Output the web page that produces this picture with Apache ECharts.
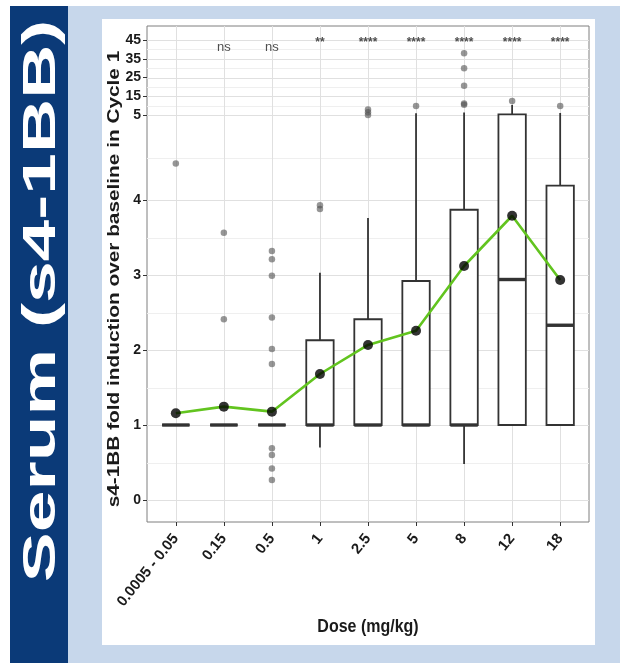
<!DOCTYPE html>
<html><head><meta charset="utf-8">
<script src="https://cdn.jsdelivr.net/npm/echarts@6/dist/echarts.min.js"></script>
<style>html,body{margin:0;padding:0;background:#fff}#c{width:620px;height:663px}</style>
</head><body><div id="c"></div><script>
// ---- data ----
const doses = ['0.0005 - 0.05','0.15','0.5','1','2.5','5','8','12','18'];
const whiskerLow  = [1, 1, 1, 0.70, 1, 1, 0.48, 1, 1];
const q1          = [1, 1, 1, 1, 1, 1, 1, 1, 1];
const median      = [1, 1, 1, 1, 1, 1, 1, 2.94, 2.33];
const q3          = [1, 1, 1, 2.13, 2.41, 2.92, 3.87, 5.4, 4.17];
const whiskerHigh = [1, 1, 1, 3.03, 3.76, 6.0, 6.3, 10.4, 6.1];
const means       = [1.156, 1.245, 1.178, 1.68, 2.067, 2.257, 3.12, 3.79, 2.933];
const outliers = [
  [4.43],
  [3.565, 2.41],
  [3.32, 3.21, 2.99, 2.435, 2.013, 1.813, 0.69, 0.6, 0.42, 0.267],
  [3.88, 3.93],
  [5.0, 6.5, 8.0],
  [9.8],
  [10.5, 11.2, 20.6, 29.9, 37.9],
  [12.5],
  [9.8]
];
const sigLabels = ['', 'ns', 'ns', '**', '****', '****', '****', '****', '****'];
const sigLevel = 45;
const yTickValues = [0, 1, 2, 3, 4, 5, 15, 25, 35, 45];
const yMinorValues = [0.5, 1.5, 2.5, 3.5, 4.5, 10, 20, 30, 40];

// broken y scale: linear 0-4, stretched 4-5, compressed above 5
function tr(v){
  if (v <= 4) return v;
  if (v <= 5) return 4 + (v - 4) * 1.133;
  return 5.133 + (v - 5) * 0.025;
}
const yTickT = yTickValues.map(tr);
const xIdx = doses.map((d, i) => i);

const boxData = xIdx.map(i => [i, tr(whiskerLow[i]), tr(q1[i]), tr(median[i]), tr(q3[i]), tr(whiskerHigh[i])]);
const outlierData = [];
outliers.forEach((arr, i) => arr.forEach(v => outlierData.push([i, tr(v)])));
const meanData = xIdx.map(i => [i, tr(means[i])]);
const sigData = xIdx.filter(i => sigLabels[i]).map(i => [i, tr(sigLevel)]);
// [kind (0 = horizontal, 1 = vertical), position, major flag]
const gridLineData = [
  ...yTickT.map(t => [0, t, 1]),
  ...yMinorValues.map(v => [0, tr(v), 0]),
  ...xIdx.map(i => [1, i, 1])
];

const FONT = 'Liberation Sans, Arial, sans-serif';
const chart = echarts.init(document.getElementById('c'), null, {renderer: 'canvas'});
chart.setOption({
  animation: false,
  backgroundColor: '#ffffff',
  graphic: [
    {type: 'rect', z: -10, shape: {x: 10, y: 6, width: 610, height: 657}, style: {fill: '#c7d7eb'}},
    {type: 'rect', z: -9, shape: {x: 10, y: 6, width: 58, height: 657}, style: {fill: '#0b3a78'}},
    {type: 'rect', z: -9, shape: {x: 102, y: 19, width: 493, height: 626}, style: {fill: '#ffffff'}},
    {type: 'text', z: 10, x: 42, y: 301, rotation: Math.PI / 2, scaleX: 1.63,
      style: {text: 'Serum (s4-1BB)', font: 'bold 46px ' + FONT, fill: '#ffffff', align: 'center', verticalAlign: 'middle'}},
    {type: 'text', z: 10, x: 115, y: 279, rotation: Math.PI / 2, scaleX: 1.3,
      style: {text: 's4-1BB fold induction over baseline in Cycle 1', font: 'bold 16px ' + FONT, fill: '#1a1a1a', align: 'center', verticalAlign: 'middle'}},
    {type: 'text', z: 10, x: 368, y: 627, scaleY: 1.15,
      style: {text: 'Dose (mg/kg)', font: 'bold 16px ' + FONT, fill: '#1a1a1a', align: 'center', verticalAlign: 'middle'}}
  ],
  grid: {left: 147, right: 31, top: 26, bottom: 141, show: true, backgroundColor: '#ffffff',
    borderColor: '#7f7f7f', borderWidth: 1, containLabel: false, outerBoundsMode: 'none'},
  xAxis: {
    type: 'value', min: -0.6, max: 8.6,
    axisLine: {show: false, onZero: false},
    splitLine: {show: false},
    axisTick: {show: true, length: 4, customValues: xIdx, lineStyle: {color: '#333', width: 1}},
    axisLabel: {show: true, customValues: xIdx, rotate: 51, margin: 14,
      formatter: v => doses[Math.round(v)] ?? '',
      fontFamily: FONT, fontWeight: 'bold', fontSize: 15, color: '#1a1a1a'}
  },
  yAxis: {
    type: 'value', min: -0.2933, max: 6.32,
    axisLine: {show: false, onZero: false},
    splitLine: {show: false},
    axisTick: {show: true, length: 4, customValues: yTickT, lineStyle: {color: '#333', width: 1}},
    axisLabel: {show: true, customValues: yTickT, margin: 6,
      formatter: v => {
        const k = yTickT.findIndex(t => Math.abs(t - v) < 1e-6);
        return k >= 0 ? String(yTickValues[k]) : '';
      },
      fontFamily: FONT, fontWeight: 'bold', fontSize: 14, color: '#1a1a1a'}
  },
  series: [
    {
      type: 'custom', name: 'grid', z: 1, silent: true,
      data: gridLineData,
      renderItem: (params, api) => {
        const cs = params.coordSys;
        const kind = api.value(0);
        const major = api.value(2) === 1;
        const col = major ? '#e0e0e0' : '#efefef';
        if (kind === 0) {
          const y = Math.round(api.coord([0, api.value(1)])[1]) + 0.5;
          return {type: 'line', shape: {x1: cs.x, y1: y, x2: cs.x + cs.width, y2: y}, style: {stroke: col, lineWidth: 1}};
        }
        const x = Math.round(api.coord([api.value(1), 0])[0]) + 0.5;
        return {type: 'line', shape: {x1: x, y1: cs.y, x2: x, y2: cs.y + cs.height}, style: {stroke: col, lineWidth: 1}};
      }
    },
    {
      type: 'custom', name: 'box', z: 2, silent: true,
      data: boxData,
      renderItem: (params, api) => {
        const i = api.value(0);
        const hw = 0.285;
        const xc = api.coord([i, 0])[0];
        const xl = api.coord([i - hw, 0])[0];
        const xr = api.coord([i + hw, 0])[0];
        const yLo = api.coord([i, api.value(1)])[1];
        const yQ1 = api.coord([i, api.value(2)])[1];
        const yMed = api.coord([i, api.value(3)])[1];
        const yQ3 = api.coord([i, api.value(4)])[1];
        const yHi = api.coord([i, api.value(5)])[1];
        const st = {stroke: '#333333', lineWidth: 1.8};
        return {type: 'group', children: [
          {type: 'line', shape: {x1: xc, y1: yHi, x2: xc, y2: yQ3}, style: st},
          {type: 'line', shape: {x1: xc, y1: yQ1, x2: xc, y2: yLo}, style: st},
          {type: 'rect', shape: {x: xl, y: yQ3, width: xr - xl, height: yQ1 - yQ3}, style: {fill: '#ffffff', stroke: '#333333', lineWidth: 1.8}},
          {type: 'line', shape: {x1: xl, y1: yMed, x2: xr, y2: yMed}, style: {stroke: '#333333', lineWidth: 3.4}}
        ]};
      }
    },
    {
      type: 'scatter', name: 'outliers', z: 3, silent: true,
      data: outlierData, symbol: 'circle', symbolSize: 6.5,
      itemStyle: {color: 'rgba(80,80,80,0.75)'}
    },
    {
      type: 'line', name: 'meanLine', z: 4, silent: true,
      data: meanData, symbol: 'none',
      lineStyle: {color: '#62c41f', width: 2.6}
    },
    {
      type: 'scatter', name: 'means', z: 5, silent: true,
      data: meanData, symbol: 'circle', symbolSize: 10,
      itemStyle: {color: '#000000'}
    },
    {
      type: 'scatter', name: 'sig', z: 6, silent: true,
      data: sigData, symbol: 'circle', symbolSize: 1,
      itemStyle: {color: 'rgba(0,0,0,0)'},
      label: {show: true, position: 'inside', offset: [0, 7],
        formatter: p => {
          const s = sigLabels[p.value[0]];
          return s === 'ns' ? '{n|' + s + '}' : '{s|' + s + '}';
        },
        rich: {
          s: {fontFamily: FONT, fontWeight: 'bold', fontSize: 12, color: '#222222', padding: [0, 0, 8, 0]},
          n: {fontFamily: FONT, fontSize: 13, color: '#222222'}
        },
        fontFamily: FONT, fontSize: 13, color: '#222222'}
    }
  ]
});
</script></body></html>
